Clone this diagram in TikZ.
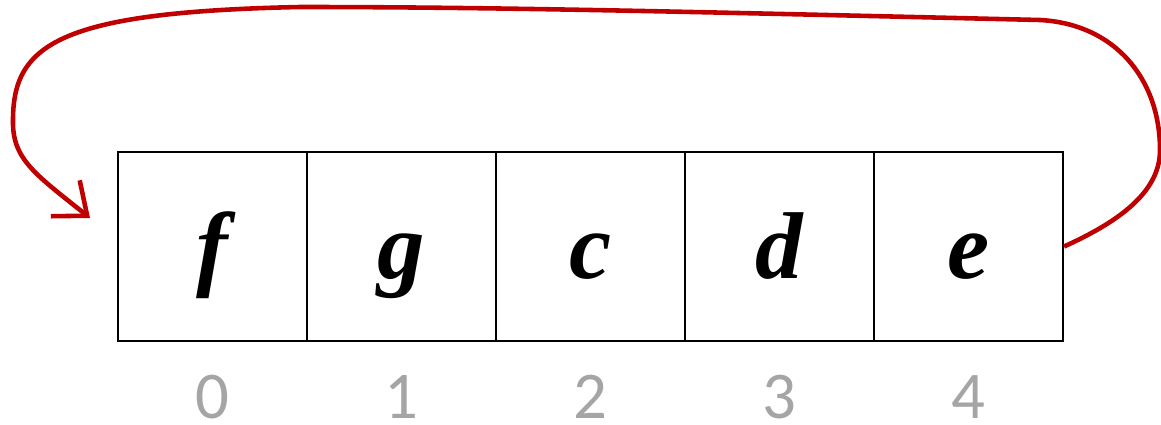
\documentclass[tikz,border=0pt]{standalone}
\usepackage{xcolor}
\usepackage{fontspec}
\setmainfont{Liberation Serif}
\newfontfamily\digitfont{Carlito}
\usetikzlibrary{arrows.meta}
\definecolor{loopred}{RGB}{192,0,0}
\definecolor{indexgray}{RGB}{165,165,165}

\begin{document}
\begin{tikzpicture}[
    cell/.style={rectangle, draw=black, line width=0.6pt, minimum size=1.89cm,
                 inner sep=0pt, text height=0.75cm, text depth=0.12cm,
                 font=\fontsize{27}{31}\selectfont\bfseries\itshape},
    idx/.style={font=\fontsize{19}{22}\selectfont\digitfont, text=indexgray},
    wrap/.style={-{Straight Barb[length=2.8mm, width=4.6mm]}, draw=loopred, line width=1.3pt}
]
\useasboundingbox (0,0) rectangle (11.61,4.24);

% Array cells
\node[cell] (c0) at (2.125,1.775) {f};
\node[cell] (c1) at (4.015,1.775) {g};
\node[cell] (c2) at (5.905,1.775) {c};
\node[cell] (c3) at (7.795,1.775) {d};
\node[cell] (c4) at (9.685,1.775) {e};

% Indices
\node[idx] (i0) at (2.125,0.27) {0};
\node[idx] (i1) at (4.015,0.27) {1};
\node[idx] (i2) at (5.905,0.27) {2};
\node[idx] (i3) at (7.795,0.27) {3};
\node[idx] (i4) at (9.685,0.27) {4};

% Wrap-around arrow
\coordinate (tip) at (0.90,2.06);
\draw[wrap] (c4.east) .. controls (11.25,2.05) and (11.60,2.35) .. (11.60,2.74)
    .. controls (11.60,3.45) and (11.15,4.00) .. (10.40,4.04)
    .. controls (7.00,4.12) and (5.00,4.17) .. (3.00,4.17)
    .. controls (0.60,4.12) and (0.13,3.80) .. (0.13,3.04)
    .. controls (0.12,2.65) and (0.35,2.50) .. (tip);

\end{tikzpicture}
\end{document}
